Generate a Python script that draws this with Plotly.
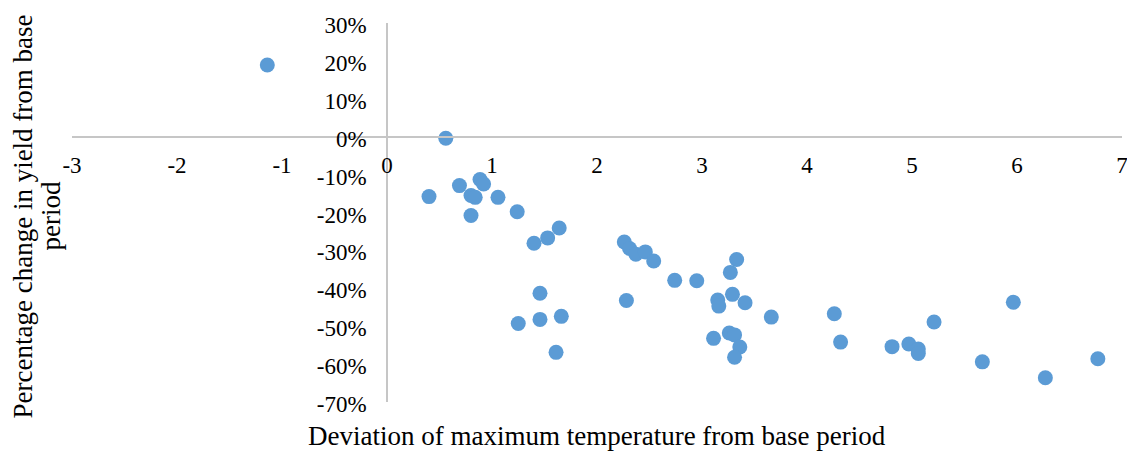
import plotly.graph_objects as go

# Deviation of maximum temperature from base period (°C)
temp_dev = [
    -1.14, 0.56, 0.40, 0.69, 0.886, 0.92, 0.80, 0.84, 1.057, 0.80,
    1.24, 1.40, 1.53, 1.64, 2.26, 2.31, 2.37, 2.46, 2.54, 2.74,
    2.95, 1.457, 2.28, 1.25, 1.457, 1.66, 1.61, 3.33, 3.27, 3.15,
    3.16, 3.29, 3.41, 3.66, 3.11, 3.26, 3.31, 3.36, 3.31, 4.26,
    4.32, 4.81, 4.97, 5.06, 5.06, 5.21, 5.965, 5.67, 6.27, 6.77,
]
# Percentage change in yield from base period (fraction)
yield_change = [
    0.189, -0.004, -0.158, -0.129, -0.113, -0.125, -0.155, -0.160, -0.160, -0.208,
    -0.198, -0.281, -0.267, -0.241, -0.278, -0.295, -0.310, -0.304, -0.328, -0.379,
    -0.380, -0.413, -0.432, -0.493, -0.482, -0.474, -0.569, -0.324, -0.358, -0.431,
    -0.447, -0.416, -0.438, -0.476, -0.532, -0.518, -0.523, -0.555, -0.582, -0.467,
    -0.542, -0.554, -0.547, -0.560, -0.572, -0.489, -0.437, -0.594, -0.636, -0.586,
]

x_tick_vals = [-3, -2, -1, 0, 1, 2, 3, 4, 5, 6, 7]
x_tick_text = ["-3", "-2", "-1", "0", "1", "2", "3", "4", "5", "6", "7"]
y_tick_vals = [0.3, 0.2, 0.1, 0.0, -0.1, -0.2, -0.3, -0.4, -0.5, -0.6, -0.7]
y_tick_text = ["30%", "20%", "10%", "0%", "-10%", "-20%", "-30%", "-40%",
               "-50%", "-60%", "-70%"]

x_range = [-3, 7]
y_range = [-0.7, 0.3]

FONT = "Liberation Serif"
AXIS_COLOR = "#C6C6C6"

fig = go.Figure(
    go.Scatter(
        x=temp_dev,
        y=yield_change,
        mode="markers",
        marker=dict(size=15, color="#5B9BD5", line=dict(width=0)),
        hoverinfo="x+y",
    )
)

fig.update_layout(
    width=1127,
    height=445,
    margin=dict(l=64, r=13, t=15, b=51, autoexpand=False),
    paper_bgcolor="white",
    plot_bgcolor="white",
    showlegend=False,
    font=dict(family=FONT, color="black"),
    xaxis=dict(
        range=x_range,
        tickvals=x_tick_vals,
        ticktext=x_tick_text,
        showgrid=False,
        zeroline=False,
        showline=True,
        linecolor=AXIS_COLOR,
        linewidth=1.5,
        ticks="",
        anchor="free",
        position=(0 - y_range[0]) / (y_range[1] - y_range[0]),
        side="bottom",
        automargin=False,
        ticklabelstandoff=8,
        tickfont=dict(family=FONT, size=23, color="black"),
    ),
    yaxis=dict(
        range=y_range,
        tickvals=y_tick_vals,
        ticktext=y_tick_text,
        showgrid=False,
        zeroline=False,
        showline=True,
        linecolor=AXIS_COLOR,
        linewidth=1.5,
        ticks="",
        anchor="free",
        position=(0 - x_range[0]) / (x_range[1] - x_range[0]),
        side="left",
        automargin=False,
        ticklabelstandoff=15,
        ticklabelshift=2,
        tickfont=dict(family=FONT, size=23, color="black"),
    ),
    annotations=[
        dict(
            text="Deviation of maximum temperature from base period",
            xref="paper", yref="paper", x=0.5, y=0, yshift=-34,
            xanchor="center", yanchor="middle", showarrow=False,
            font=dict(family=FONT, size=27, color="black"),
        ),
        dict(
            text="Percentage change in yield from base",
            xref="paper", yref="paper", x=0, y=0.5, xshift=-50, yshift=-4,
            xanchor="center", yanchor="middle", textangle=-90, showarrow=False,
            font=dict(family=FONT, size=27, color="black"),
        ),
        dict(
            text="period",
            xref="paper", yref="paper", x=0, y=0.5, xshift=-22, yshift=-4,
            xanchor="center", yanchor="middle", textangle=-90, showarrow=False,
            font=dict(family=FONT, size=27, color="black"),
        ),
    ],
)

fig.write_html("out.html")
